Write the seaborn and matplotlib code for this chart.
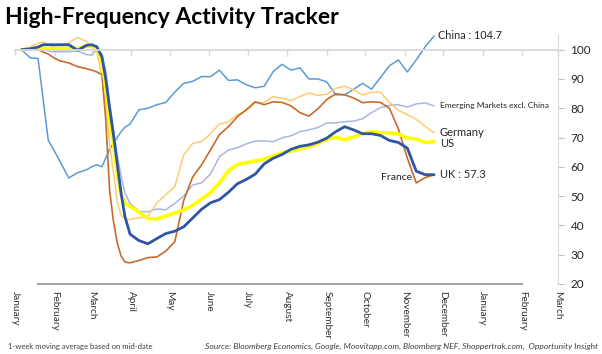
import numpy as np
import pandas as pd
import seaborn as sns
import matplotlib.pyplot as plt
import matplotlib.dates as mdates

# day of year 2020 for each reading (denser during the March collapse)
days = [5, 12, 18, 22, 26, 30, 35, 42, 49, 56, 60, 64, 68, 71, 74, 77, 80, 83, 86, 90] + list(range(97, 329, 7))

china = [100, 97.2, 97, 83, 69, 66, 62, 56.2, 58, 59, 60, 60.7, 60, 63, 66, 68, 70, 72, 73.5, 74.6,
         79.5, 80, 81.2, 82, 85.5, 88.5, 89.2, 90.8, 90.8, 93, 89.5, 89.7, 88, 87, 87.5, 92.5, 95, 93,
         93.8, 90, 90, 89, 84.6, 84.6, 86.5, 88.5, 86.5, 90.5, 94.5, 96.5, 92.4, 96.5, 101, 104.7]
em = [100, 100, 100, 100, 99.6, 99.3, 99.3, 99.3, 99.6, 98.3, 98.2, 100, 98.6, 93, 82, 73, 64, 57, 51, 47.5,
      44.8, 44.6, 45.6, 45.3, 47.5, 50, 53.8, 54.5, 57.5, 63.5, 65.7, 66.5, 67.8, 68.8, 68.8, 68.6, 69.9, 70.6,
      72, 72.6, 73.4, 75, 75, 75.4, 75.6, 76.4, 78.5, 80.2, 81, 81.2, 80.4, 81.5, 81.8, 80.8]
germany = [100, 101, 102.2, 102.7, 101.7, 101, 100.7, 102.4, 104.2, 102.8, 101, 99, 91, 80, 68, 58, 48, 43.5, 42.3, 42,
           42.6, 43, 47.7, 50.5, 53.2, 64, 68, 68.6, 71.3, 74.6, 75.4, 77.8, 79.2, 81.9, 81.9, 84, 83.4, 82.6,
           84, 85.2, 84.4, 84.8, 86.8, 87.5, 86.3, 84.5, 85.5, 85.5, 82, 79.3, 77.8, 76.2, 73.8, 71.6]
france = [100, 100, 100, 99.2, 98.5, 97.3, 96.2, 95.5, 94.2, 93.5, 93, 92.4, 91.5, 76, 52, 41.5, 34, 29.5, 27.5, 27.2,
          28, 29, 29.2, 31.2, 34.4, 48.5, 56.5, 60.7, 65.8, 71, 73.7, 77.1, 79.5, 82.2, 81.2, 82.2, 82, 80.8,
          78.5, 77.3, 79.8, 83, 84.9, 84.6, 83.5, 81.9, 82.2, 82, 80, 73, 63, 54.5, 56.3, 57.3]
us = [100, 100.3, 100.6, 100.5, 100.3, 100.3, 100.3, 100.5, 100.3, 101.2, 101.2, 100.8, 96, 87, 76, 68, 58, 50.5, 47.5, 46.5,
      44.5, 42.3, 42.2, 43.2, 44.2, 45.3, 46.8, 49, 51.2, 54.5, 58.6, 60.8, 61.4, 62, 62.6, 63.6, 64.8, 65.4,
      66.1, 66.8, 67.9, 69.4, 70.1, 69.2, 70.2, 71.3, 72, 71.6, 71.6, 71.2, 69.8, 69.5, 68.3, 68.6]
uk = [100, 100.3, 100.9, 101.7, 101.7, 101.7, 101.7, 101.7, 99.8, 101.5, 101.7, 101, 97.5, 90, 80, 71, 61, 51, 43, 37,
      34.8, 33.7, 35.5, 37.2, 38, 39.5, 42.5, 45.5, 47.7, 48.8, 51.3, 54.2, 55.7, 57.5, 61, 62.9, 64.2, 66,
      67, 67.5, 68.4, 69.8, 72, 73.7, 72.6, 71.3, 71.3, 70.7, 69, 68.3, 66.4, 58.5, 57.3, 57.3]

dates = pd.Timestamp('2020-01-01') + pd.to_timedelta(days, unit='D')

sns.set_style('white')
plt.rcParams['font.family'] = ['Lato', 'DejaVu Sans']

fig = plt.figure(figsize=(6.02, 3.54), dpi=100)
ax = fig.add_axes([0.025, 0.198, 0.902, 0.703])

lines = [
    (china, '#5B9BD5', 1.1),
    (em, '#A9B7E2', 1.1),
    (germany, '#FFCC6E', 1.1),
    (france, '#C96A2B', 1.2),
    (us, '#FFFF00', 2.6),
    (uk, '#2F55A4', 2.0),
]
for vals, col, lw in lines:
    sns.lineplot(x=dates, y=vals, color=col, lw=lw, ax=ax)

ax.set_xlim(pd.Timestamp('2020-01-01'), pd.Timestamp('2021-03-01'))
ax.set_ylim(20, 105)
ax.set_xlabel('')
ax.set_ylabel('')

# month ticks, drawn on the line at 100, labels at the bottom
ax.xaxis.set_major_locator(mdates.MonthLocator())
ax.xaxis.set_major_formatter(mdates.DateFormatter('%B'))
ax.tick_params(axis='x', top=True, bottom=False, labeltop=False, labelbottom=True,
               direction='in', length=4, color='#D9D9D9', width=1,
               labelsize=7.2, labelcolor='#333333', labelrotation=270, pad=5)
for lbl in ax.get_xticklabels():
    lbl.set_va('top')
    lbl.set_ha('center')

ax.yaxis.tick_right()
ax.set_yticks(range(20, 101, 10))
ax.tick_params(axis='y', right=True, direction='out', length=4, color='#BFBFBF',
               labelsize=8.5, labelcolor='#262626', pad=5)

ax.spines['left'].set_visible(False)
ax.spines['right'].set_color('#D9D9D9')
ax.spines['top'].set_position(('data', 100))
ax.spines['top'].set_color('#D9D9D9')
ax.spines['top'].set_linewidth(1.3)
ax.spines['bottom'].set_color('#A6A6A6')
ax.spines['bottom'].set_linewidth(1.5)
ax.spines['bottom'].set_bounds(mdates.date2num(pd.Timestamp('2020-01-19')),
                               mdates.date2num(pd.Timestamp('2021-02-01')))

end = dates[-1]
txt = dict(textcoords='offset points', va='center', color='#262626')
ax.annotate('China : 104.7', xy=(end, china[-1]), xytext=(3, 0), fontsize=7.8, annotation_clip=False, **txt)
ax.annotate('Emerging Markets excl. China', xy=(end, em[-1]), xytext=(4, 0), fontsize=6, **txt)
ax.annotate('Germany', xy=(end, germany[-1]), xytext=(4, 0), fontsize=8, **txt)
ax.annotate('US', xy=(end, us[-1]), xytext=(4, -1), fontsize=8, **txt)
ax.annotate('UK : 57.3', xy=(end, uk[-1]), xytext=(4, 0), fontsize=8, **txt)
ax.annotate('France', xy=(end, france[-1]), xytext=(-16, -2), ha='right', fontsize=7.5,
            textcoords='offset points', va='center', color='#262626')

fig.text(0.008, 0.95, 'High-Frequency Activity Tracker', fontsize=16.5, fontweight='bold',
         color='#000000', va='center', ha='left')
fig.text(0.013, 0.012, '1-week moving average based on mid-date', fontsize=5.5,
         color='#404040', va='bottom', ha='left')
fig.text(0.993, 0.012, 'Source: Bloomberg Economics, Google, Moovitapp.com, Bloomberg NEF, '
         'Shoppertrak.com,  Opportunity Insight', fontsize=6.1, fontstyle='italic',
         color='#404040', va='bottom', ha='right')

fig.savefig('out.png', dpi=100)
